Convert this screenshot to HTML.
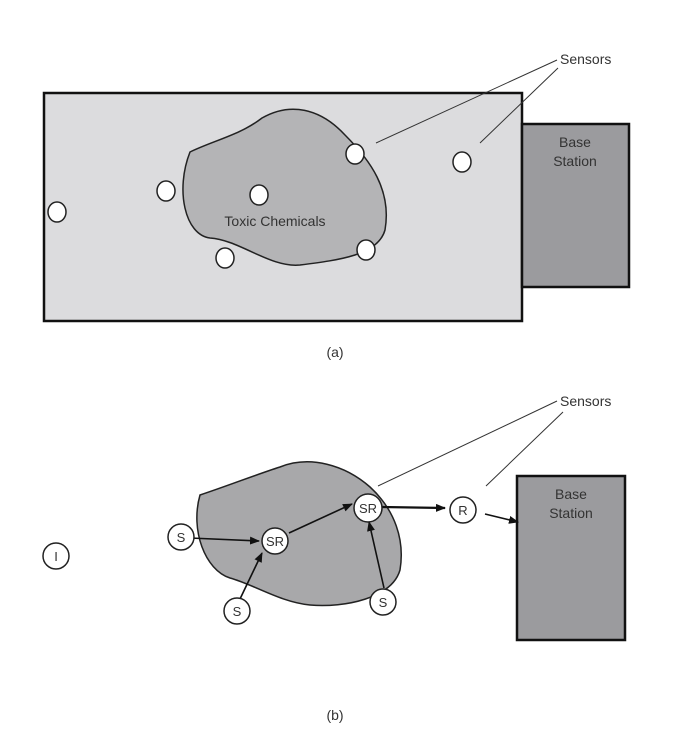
<!DOCTYPE html>
<html><head><style>body{margin:0;background:#fff}svg{display:block}text{font-family:"Liberation Sans",sans-serif;fill:#333}</style></head>
<body>
<svg width="700" height="737" viewBox="0 0 700 737">
<defs><marker id="ah" markerWidth="10" markerHeight="8" refX="9" refY="4" orient="auto" markerUnits="userSpaceOnUse"><path d="M0,0 L10,4 L0,8 z" fill="#111"/></marker></defs>
<!-- (a) -->
<rect x="44" y="93" width="478" height="228" fill="#dcdcde" stroke="#111" stroke-width="2.5"/>
<rect x="522" y="124" width="107" height="163" fill="#9b9b9e" stroke="#111" stroke-width="2.5"/>
<text x="575" y="147" font-size="14" text-anchor="middle">Base</text>
<text x="575" y="166" font-size="14" text-anchor="middle">Station</text>
<path d="M190,152 C215,140 240,135 262,118 C290,102 320,108 345,135 C370,160 392,190 385,230 C378,255 340,260 300,265 C270,268 240,240 210,238 C185,235 175,190 190,152 Z" fill="#b4b4b6" stroke="#222" stroke-width="1.5"/>
<text x="275" y="226" font-size="14" text-anchor="middle">Toxic Chemicals</text>
<g fill="#fff" stroke="#222" stroke-width="1.5">
<ellipse cx="355" cy="154" rx="9" ry="10"/><ellipse cx="462" cy="162" rx="9" ry="10"/>
<ellipse cx="166" cy="191" rx="9" ry="10"/><ellipse cx="259" cy="195" rx="9" ry="10"/>
<ellipse cx="57" cy="212" rx="9" ry="10"/><ellipse cx="225" cy="258" rx="9" ry="10"/>
<ellipse cx="366" cy="250" rx="9" ry="10"/></g>
<line x1="557" y1="60" x2="376" y2="143" stroke="#333" stroke-width="1"/>
<line x1="558" y1="68" x2="480" y2="143" stroke="#333" stroke-width="1"/>
<text x="560" y="64" font-size="14">Sensors</text>
<text x="335" y="357" font-size="14" text-anchor="middle">(a)</text>
<!-- (b) -->
<rect x="517" y="476" width="108" height="164" fill="#9b9b9e" stroke="#111" stroke-width="2.5"/>
<text x="571" y="499" font-size="14" text-anchor="middle">Base</text>
<text x="571" y="518" font-size="14" text-anchor="middle">Station</text>
<path d="M200,495 C230,485 255,475 280,467 C310,455 345,465 370,487 C395,510 405,540 400,570 C392,598 345,608 310,605 C280,602 255,585 230,578 C205,570 190,530 200,495 Z" fill="#a8a8aa" stroke="#222" stroke-width="1.5"/>
<g stroke="#111" stroke-width="1.6" fill="none">
<line x1="190" y1="538" x2="259" y2="541" marker-end="url(#ah)"/>
<line x1="240" y1="599" x2="262" y2="553" marker-end="url(#ah)"/>
<line x1="289" y1="533" x2="352" y2="504" marker-end="url(#ah)"/>
<line x1="382" y1="507" x2="445" y2="508" stroke-width="2.2" marker-end="url(#ah)"/>
<line x1="384" y1="588" x2="369" y2="522" marker-end="url(#ah)"/>
<line x1="485" y1="514" x2="518" y2="522" marker-end="url(#ah)"/>
</g>
<g fill="#fff" stroke="#222" stroke-width="1.5">
<circle cx="181" cy="537" r="13"/><circle cx="275" cy="541" r="13"/>
<circle cx="368" cy="508" r="14"/><circle cx="463" cy="510" r="13"/>
<circle cx="237" cy="611" r="13"/><circle cx="383" cy="602" r="13"/>
<circle cx="56" cy="556" r="13"/></g>
<g font-size="13" text-anchor="middle">
<text x="181" y="542">S</text><text x="275" y="546">SR</text><text x="368" y="513">SR</text>
<text x="463" y="515">R</text><text x="237" y="616">S</text><text x="383" y="607">S</text><text x="56" y="561">I</text></g>
<line x1="557" y1="401" x2="378" y2="486" stroke="#333" stroke-width="1"/>
<line x1="563" y1="412" x2="486" y2="486" stroke="#333" stroke-width="1"/>
<text x="560" y="406" font-size="14">Sensors</text>
<text x="335" y="720" font-size="14" text-anchor="middle">(b)</text>
</svg>
</body></html>
